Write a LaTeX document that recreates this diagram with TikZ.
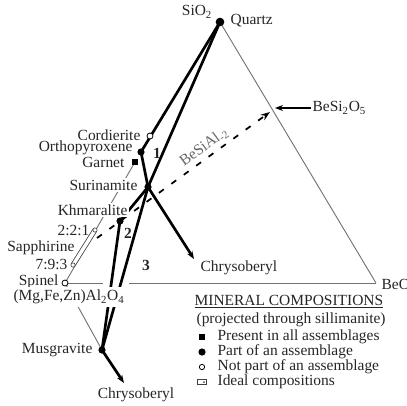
\documentclass[tikz,border=0pt]{standalone}
\usepackage{fontspec}
\setmainfont{Liberation Serif}
\usetikzlibrary{arrows.meta}
\begin{document}
\begin{tikzpicture}[x=0.75pt,y=-0.75pt,
  lbl/.style={font=\fontsize{11.6}{13}\selectfont, text=black!85, inner sep=1pt},
  wlbl/.style={lbl, fill=white},
  numlbl/.style={font=\fontsize{11.6}{13}\selectfont\bfseries, text=black!85, inner sep=1pt},
  tie/.style={line width=2pt, black},
  thinln/.style={line width=0.7pt, black!55},
  fdot/.style={circle, fill=black, inner sep=0pt, minimum size=5.4pt},
  odot/.style={circle, draw=black, fill=white, line width=0.6pt, inner sep=0pt, minimum size=4.5pt},
  sdot/.style={rectangle, fill=black, inner sep=0pt, minimum size=4.8pt},
  idot/.style={circle, draw=black!70, fill=white, line width=0.5pt, inner sep=0pt, minimum size=3.2pt},
  tip/.style={-{Stealth[length=6pt,width=4.5pt]}}
]
\useasboundingbox (0,0) rectangle (407,405);

% points
\coordinate (Q) at (220,22);
\coordinate (Cord) at (150,136);
\coordinate (Orth) at (141,152);
\coordinate (Garn) at (135,162);
\coordinate (Sur) at (148,187);
\coordinate (Khm) at (120,221);
\coordinate (S221) at (95,230);
\coordinate (S793) at (73,265);
\coordinate (Sp) at (65,283);
\coordinate (Mus) at (102,350);
\coordinate (ChrT) at (194,259);
\coordinate (ChrB) at (124,383);
\coordinate (BeO) at (376,283);
\coordinate (BeSi) at (275,108);
\coordinate (g1) at (103,283);
\coordinate (g2) at (129,283);
\coordinate (dS) at (97,238);
\coordinate (dE) at (270,112);

% thin lines
\draw[thinln] (Q) -- (BeO);
\draw[thinln] (Sp) -- (g1);
\draw[thinln] (g2) -- (BeO);
\draw[thinln] (Garn) -- (Sp);
\draw[thinln] (Sp) -- (Mus);

% sapphirine bar
\draw[line width=0.6pt, black!75, double=white, double distance=2.6pt] (S221) -- (S793);

% dashed BeSiAl-2 line
\draw[line width=1.3pt, black, dash pattern=on 4.5pt off 7pt, -{Stealth[length=7pt,width=5pt]}] (dS) -- (dE);

% thick tie lines
\draw[tie] (Q) -- (Orth);
\draw[tie] (Q) -- (Sur);
\draw[tie] (Orth) -- (Sur);
\draw[tie] (Khm) -- (Sur);
\draw[tie] (Khm) -- (Mus);
\draw[tie] (Sur) -- (Mus);
\draw[tie, tip] (Sur) -- (ChrT);
\draw[tie, tip] (Mus) -- (ChrB);

% labels
\node[lbl] (lSiO) at (197,12) {SiO\textsubscript{2}};
\node[lbl, anchor=west] (lQ) at (229,21) {Quartz};
\node[lbl, anchor=west] (lBeSi) at (311,108) {BeSi\textsubscript{2}O\textsubscript{5}};
\draw[line width=0.8pt, black, -{Stealth[length=6pt,width=4.5pt]}] (lBeSi.west) -- (BeSi);
\node[wlbl, anchor=east] (lCord) at (142,135) {Cordierite};
\node[wlbl, anchor=east] (lOrth) at (134,148) {Orthopyroxene};
\node[wlbl, anchor=east] (lGarn) at (126,162) {Garnet};
\node[wlbl, anchor=east] (lSur) at (139,185) {Surinamite};
\node[wlbl, anchor=east] (lKhm) at (129,210) {Khmaralite};
\node[lbl, anchor=east] (l221) at (91,230) {2:2:1};
\node[wlbl, anchor=east] (lSap) at (76,248) {Sapphirine};
\node[lbl, anchor=east] (l793) at (69,264) {7:9:3};
\node[lbl, anchor=east] (lSp) at (60,282) {Spinel};
\node[wlbl, inner ysep=2.5pt] (lAl) at (69,297) {(Mg,Fe,Zn)Al\textsubscript{2}O\textsubscript{4}};
\node[lbl, anchor=east] (lMus) at (94,350) {Musgravite};
\node[lbl] (lChrB) at (136,395) {Chrysoberyl};
\node[lbl, anchor=west] (lChrT) at (199,268) {Chrysoberyl};
\node[lbl, anchor=west] (lBeO) at (380,284) {BeO};
\node[lbl, text=black!60, rotate=36] (lBSA) at (204,147) {BeSiAl\textsubscript{-2}};
\node[numlbl] (n1) at (157,153) {1};
\node[numlbl] (n2) at (128,233) {2};
\node[numlbl] (n3) at (146,265) {3};

% markers
\node[fdot, minimum size=6.5pt] (mQ) at (Q) {};
\node[odot] (mCord) at (Cord) {};
\node[fdot] (mOrth) at (Orth) {};
\node[sdot] (mGarn) at (Garn) {};
\node[fdot] (mSur) at (Sur) {};
\node[fdot] (mKhm) at (Khm) {};
\node[idot] (m221) at (S221) {};
\node[idot] (m793) at (S793) {};
\node[odot] (mSp) at (Sp) {};
\node[fdot] (mMus) at (Mus) {};

% legend
\node[lbl, anchor=west] (lgT) at (193,302) {\underline{MINERAL COMPOSITIONS}};
\node[lbl, anchor=west] (lgP) at (195,320) {(projected through sillimanite)};
\node[sdot, minimum size=4pt] (lgm1) at (202,337) {};
\node[lbl, anchor=west] (lg1) at (216,337) {Present in all assemblages};
\node[fdot] (lgm2) at (202,352) {};
\node[lbl, anchor=west] (lg2) at (216,352) {Part of an assemblage};
\node[odot, minimum size=4pt] (lgm3) at (202,367) {};
\node[lbl, anchor=west] (lg3) at (216,367) {Not part of an assemblage};
\node[rectangle, draw=black!75, line width=0.6pt, inner sep=0pt, minimum width=7pt, minimum height=3.5pt] (lgm4) at (202,382) {};
\node[circle, fill=black!75, inner sep=0pt, minimum size=1.5pt] (lgm4d) at (204,382) {};
\node[lbl, anchor=west] (lg4) at (216,382) {Ideal compositions};
\end{tikzpicture}
\end{document}
